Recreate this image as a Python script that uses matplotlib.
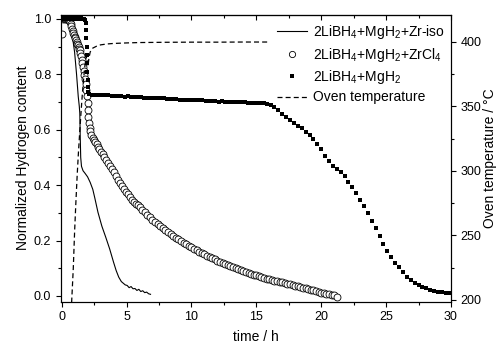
import matplotlib
matplotlib.use("Agg")
import matplotlib.pyplot as plt
from matplotlib.ticker import MultipleLocator

plt.rcParams['font.family'] = ['Liberation Sans', 'DejaVu Sans']
plt.rcParams['mathtext.fontset'] = 'custom'
plt.rcParams['mathtext.rm'] = 'Liberation Sans'
plt.rcParams['mathtext.it'] = 'Liberation Sans'

# 2LiBH4+MgH2+Zr-iso (solid line)
t_iso = [0.0, 0.3, 0.55, 0.7, 0.85, 1.0, 1.15, 1.28, 1.36, 1.40, 1.43, 1.47, 1.53,
         1.65, 1.8, 2.0, 2.2, 2.4, 2.55, 2.8, 3.1, 3.4, 3.7, 4.0, 4.2, 4.4, 4.6,
         4.75, 4.9, 5.05, 5.2, 5.35, 5.5, 5.65, 5.8, 5.95, 6.1, 6.25, 6.4, 6.55,
         6.7, 6.85]
h_iso = [1.0, 1.0, 0.998, 0.975, 0.93, 0.88, 0.80, 0.72, 0.685, 0.66, 0.58, 0.50, 0.468,
         0.452, 0.443, 0.430, 0.410, 0.385, 0.355, 0.302, 0.252, 0.212, 0.170, 0.122, 0.092,
         0.068, 0.052, 0.046, 0.040, 0.038, 0.030, 0.034, 0.026, 0.027, 0.020, 0.024, 0.016,
         0.019, 0.012, 0.014, 0.008, 0.006]

# 2LiBH4+MgH2+ZrCl4 (open circles)
t_zrcl = [0.0, 0.08, 0.16, 0.24, 0.32, 0.40, 0.48, 0.55, 0.60, 0.65, 0.70, 0.75, 0.80,
          0.85, 0.90, 0.95, 1.00, 1.05, 1.10, 1.15, 1.20, 1.25, 1.30, 1.35, 1.40, 1.45,
          1.50, 1.55, 1.60, 1.65, 1.70, 1.75, 1.80, 1.85, 1.90, 1.95, 2.00, 2.03, 2.06,
          2.10, 2.15, 2.20, 2.30, 2.40, 2.50, 2.60, 2.70, 2.80, 2.90, 3.00, 3.15, 3.30,
          3.45, 3.60, 3.75, 3.90, 4.05, 4.20, 4.35, 4.50, 4.65, 4.80, 4.95, 5.10, 5.25,
          5.40, 5.55, 5.70, 5.85, 6.00, 6.2, 6.4, 6.6, 6.8, 7.0, 7.2, 7.4, 7.6, 7.8, 8.0,
          8.2, 8.4, 8.6, 8.8, 9.0, 9.2, 9.4, 9.6, 9.8, 10.0, 10.2, 10.4, 10.6, 10.8, 11.0,
          11.2, 11.4, 11.6, 11.8, 12.0, 12.2, 12.4, 12.6, 12.8, 13.0, 13.2, 13.4, 13.6,
          13.8, 14.0, 14.2, 14.4, 14.6, 14.8, 15.0, 15.2, 15.4, 15.6, 15.8, 16.0, 16.2,
          16.4, 16.6, 16.8, 17.0, 17.2, 17.4, 17.6, 17.8, 18.0, 18.2, 18.4, 18.6, 18.8,
          19.0, 19.2, 19.4, 19.6, 19.8, 20.0, 20.2, 20.4, 20.6, 20.8, 21.0, 21.2]
h_zrcl = [0.945, 1.0, 1.002, 0.999, 1.001, 1.0, 0.999, 0.998, 0.995, 0.99, 0.982, 0.975,
          0.965, 0.955, 0.948, 0.942, 0.936, 0.930, 0.924, 0.918, 0.911, 0.905, 0.898,
          0.893, 0.887, 0.878, 0.866, 0.853, 0.840, 0.826, 0.812, 0.797, 0.782, 0.765,
          0.745, 0.722, 0.695, 0.670, 0.645, 0.624, 0.606, 0.594, 0.582, 0.572, 0.564,
          0.556, 0.548, 0.538, 0.530, 0.521, 0.511, 0.500, 0.490, 0.480, 0.470, 0.460,
          0.449, 0.432, 0.420, 0.407, 0.397, 0.387, 0.377, 0.367, 0.357, 0.348, 0.340,
          0.333, 0.327, 0.321, 0.312, 0.302, 0.293, 0.284, 0.275, 0.267, 0.259, 0.252,
          0.245, 0.238, 0.232, 0.225, 0.218, 0.211, 0.205, 0.199, 0.193, 0.187, 0.181,
          0.175, 0.170, 0.165, 0.160, 0.155, 0.150, 0.146, 0.141, 0.137, 0.132, 0.128,
          0.124, 0.120, 0.116, 0.112, 0.108, 0.104, 0.101, 0.097, 0.094, 0.090, 0.087,
          0.084, 0.080, 0.077, 0.074, 0.072, 0.068, 0.066, 0.062, 0.060, 0.058, 0.055,
          0.053, 0.052, 0.050, 0.047, 0.044, 0.042, 0.040, 0.037, 0.035, 0.032, 0.030,
          0.028, 0.025, 0.022, 0.020, 0.018, 0.015, 0.012, 0.010, 0.008, 0.006, 0.004,
          0.002, -0.004]

# 2LiBH4+MgH2 (filled squares)
t_ref = [0.0, 0.1, 0.2, 0.3, 0.4, 0.5, 0.6, 0.7, 0.8, 0.9, 1.0, 1.1, 1.2, 1.3, 1.4, 1.5,
         1.6, 1.7, 1.8, 1.84, 1.87, 1.90, 1.92, 1.94, 1.96, 1.98, 2.00, 2.02, 2.05,
         2.1, 2.35, 2.6, 2.85, 3.1, 3.35, 3.6, 3.85, 4.1, 4.35, 4.6, 4.85, 5.1, 5.35,
         5.6, 5.85, 6.1, 6.35, 6.6, 6.85, 7.1, 7.35, 7.6, 7.85, 8.1, 8.35, 8.6, 8.85,
         9.1, 9.35, 9.6, 9.85, 10.1, 10.35, 10.6, 10.85, 11.1, 11.35, 11.6, 11.85, 12.1,
         12.35, 12.6, 12.85, 13.1, 13.35, 13.6, 13.85, 14.1, 14.35, 14.6, 14.85, 15.1,
         15.35, 15.6, 15.85, 16.1, 16.4, 16.7, 17.0, 17.3, 17.6, 17.9, 18.2, 18.5, 18.8,
         19.1, 19.4, 19.7, 20.0, 20.3, 20.6, 20.9, 21.2, 21.5, 21.8, 22.1, 22.4, 22.7,
         23.0, 23.3, 23.6, 23.9, 24.2, 24.5, 24.8, 25.1, 25.4, 25.7, 26.0, 26.3, 26.6,
         26.9, 27.2, 27.5, 27.8, 28.1, 28.4, 28.7, 29.0, 29.3, 29.6, 29.9]
h_ref = [1.0, 1.003, 1.0, 1.004, 1.002, 1.0, 1.003, 1.001, 1.004, 1.0, 1.002, 1.003,
         1.001, 1.0, 1.002, 1.003, 1.001, 1.0, 0.998, 0.985, 0.96, 0.93, 0.90, 0.87,
         0.84, 0.81, 0.78, 0.755, 0.735,
         0.729, 0.727, 0.726, 0.726, 0.725, 0.724, 0.724, 0.723, 0.722, 0.722, 0.721,
         0.720, 0.721, 0.719, 0.718, 0.718, 0.717, 0.716, 0.716, 0.715, 0.715, 0.714,
         0.713, 0.713, 0.712, 0.711, 0.712, 0.710, 0.709, 0.709, 0.708, 0.707, 0.708,
         0.709, 0.707, 0.706, 0.705, 0.704, 0.704, 0.703, 0.702, 0.703, 0.702, 0.701,
         0.700, 0.701, 0.700, 0.699, 0.699, 0.698, 0.698, 0.697, 0.697, 0.696, 0.695,
         0.693, 0.690, 0.683, 0.670, 0.658, 0.645, 0.634, 0.624, 0.615, 0.605, 0.593,
         0.580, 0.567, 0.550, 0.530, 0.507, 0.486, 0.470, 0.457, 0.447, 0.432, 0.413,
         0.392, 0.372, 0.345, 0.323, 0.298, 0.270, 0.245, 0.218, 0.188, 0.162, 0.140,
         0.120, 0.103, 0.086, 0.070, 0.057, 0.048, 0.041, 0.034, 0.028, 0.022, 0.018,
         0.015, 0.013, 0.012, 0.012]

# oven temperature (dashed, right axis)
t_oven = [0.77, 0.9, 1.0, 1.1, 1.2, 1.3, 1.4, 1.5, 1.6, 1.7, 1.8, 1.9, 1.97, 2.03, 2.1,
          2.2, 2.4, 2.7, 3.0, 3.5, 4.0, 5.0, 6.0, 8.0, 10.0, 12.0, 14.0, 15.9]
temp_oven = [198, 225, 253, 276, 297, 315, 331, 346, 360, 372, 382, 389, 386, 381, 387,
             392, 395, 396.5, 397.5, 398.2, 398.6, 399.0, 399.3, 399.5, 399.6, 399.6,
             399.7, 399.7]

fig = plt.figure(figsize=(4.97, 3.44), dpi=100)
ax = fig.add_axes([0.1227, 0.1235, 0.7847, 0.8343])
ax2 = ax.twinx()

l1, = ax.plot(t_iso, h_iso, '-', color='black', lw=0.8,
              label=r'2LiBH$_4$+MgH$_2$+Zr-iso', zorder=2)
l2, = ax.plot(t_zrcl, h_zrcl, 'o', ms=5.0, mfc='white', mec='black', mew=0.6,
              label=r'2LiBH$_4$+MgH$_2$+ZrCl$_4$', zorder=3)
l3, = ax.plot(t_ref, h_ref, 's', ms=2.7, color='black', mew=0,
              label=r'2LiBH$_4$+MgH$_2$', zorder=4)
l4, = ax2.plot(t_oven, temp_oven, '--', color='black', lw=0.9, dashes=(4, 2.5),
               label='Oven temperature')

ax.set_xlim(-0.05, 30)
ax.set_ylim(-0.02, 1.016)
ax2.set_ylim(198.8, 421)

ax.xaxis.set_major_locator(MultipleLocator(5))
ax.xaxis.set_minor_locator(MultipleLocator(2.5))
ax.yaxis.set_major_locator(MultipleLocator(0.2))
ax.yaxis.set_minor_locator(MultipleLocator(0.1))
ax2.yaxis.set_major_locator(MultipleLocator(50))
ax2.yaxis.set_minor_locator(MultipleLocator(25))

for a in (ax, ax2):
    a.tick_params(which='major', length=3.5, width=0.8, labelsize=9, direction='out')
    a.tick_params(which='minor', length=2, width=0.8, direction='out')
    for s in a.spines.values():
        s.set_linewidth(0.8)

top = ax.secondary_xaxis('top')
top.xaxis.set_major_locator(MultipleLocator(5))
top.xaxis.set_minor_locator(MultipleLocator(2.5))
top.tick_params(which='major', length=3.5, width=0.8, direction='in', labeltop=False)
top.tick_params(which='minor', length=2, width=0.8, direction='in')
top.spines['top'].set_linewidth(0.8)

ax.set_xlabel('time / h', fontsize=10, labelpad=5)
ax.set_ylabel('Normalized Hydrogen content', fontsize=10, labelpad=3)
ax2.set_ylabel('Oven temperature / \u00b0C', fontsize=10, labelpad=1)

leg = ax.legend(handles=[l1, l2, l3, l4], loc='upper left',
                bbox_to_anchor=(0.554, 0.97), frameon=False, fontsize=10,
                borderpad=0, borderaxespad=0, handlelength=2.15, handletextpad=0.45,
                labelspacing=0.32, numpoints=1, markerscale=0.9)
leg.set_zorder(10)

fig.savefig('out.png', dpi=100)
